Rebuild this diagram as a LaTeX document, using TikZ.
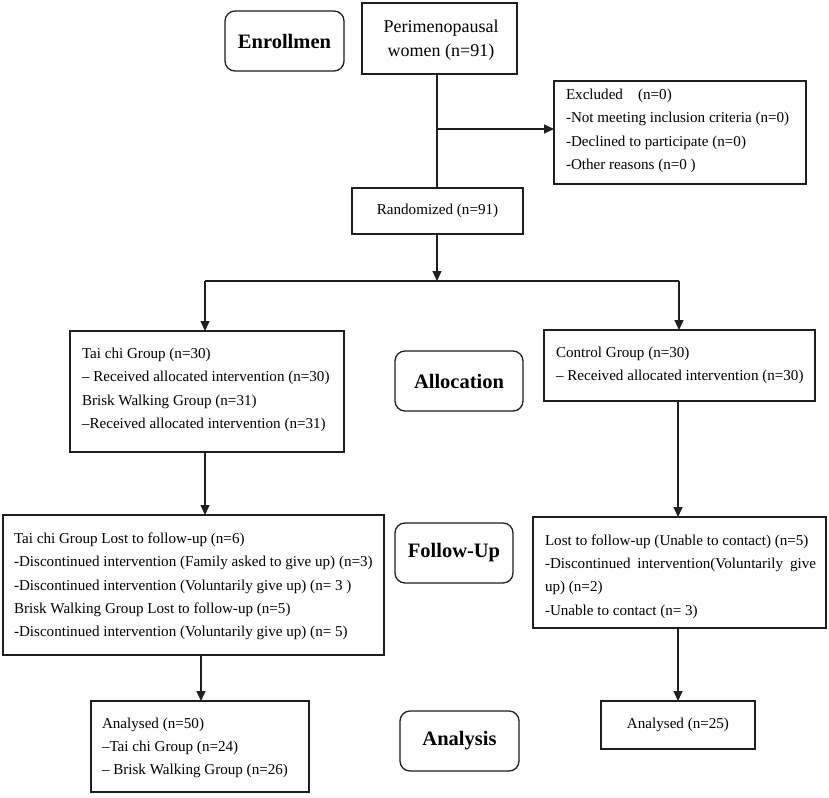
\documentclass[tikz,border=0pt]{standalone}
\usepackage{fontspec}
\setmainfont{Liberation Serif}
\usetikzlibrary{arrows.meta}
\begin{document}
\begin{tikzpicture}[x=1pt,y=-1pt,
  every node/.style={inner sep=0pt, outer sep=0pt},
  txt/.style={font=\fontsize{15.1}{23.3}\selectfont, align=left, anchor=west},
  ctxt/.style={font=\fontsize{15.1}{23.3}\selectfont, align=center},
  box/.style={draw=black!88, line width=1.3pt, rectangle},
  stage/.style={draw=black!88, line width=1.3pt, rectangle, rounded corners=10pt,
                font=\fontsize{20.5}{24}\selectfont\bfseries},
  conn/.style={draw=black!88, line width=1.3pt},
  arr/.style={conn, -{Triangle[length=10pt,width=9pt]}}
]
\useasboundingbox (0,0) rectangle (829,797);
\fill[white] (0,0) rectangle (829,797);

% stage labels
\node[stage, minimum width=119pt, minimum height=60pt] (enr) at (284.5,41) {Enrollmen};
\node[stage, minimum width=128pt, minimum height=60pt] (alloc) at (459,381) {Allocation};
\node[stage, minimum width=118pt, minimum height=60pt] (fu) at (454,553) {Follow-Up};
\node[stage, minimum width=119pt, minimum height=60pt] (an) at (459.5,741) {Analysis};

% boxes
\node[box, minimum width=155pt, minimum height=71pt] (peri) at (439.5,38.5) {};
\node[align=center, font=\fontsize{18}{24}\selectfont] (tperi) at (441,40) {Perimenopausal\\women (n=91)};

\node[box, minimum width=252pt, minimum height=103pt] (excl) at (680,132.5) {};
\node[txt] (texcl) at (566,131) {Excluded\quad (n=0)\\-Not meeting inclusion criteria (n=0)\\-Declined to participate (n=0)\\-Other reasons (n=0 )};

\node[box, minimum width=171pt, minimum height=46pt] (rand) at (437.5,211) {};
\node[ctxt] (trand) at (437.5,211) {Randomized (n=91)};

\node[box, minimum width=274pt, minimum height=121pt] (alL) at (207,391.5) {};
\node[txt] (talL) at (82,390) {Tai chi Group (n=30)\\– Received allocated intervention (n=30)\\Brisk Walking Group (n=31)\\–Received allocated intervention (n=31)};

\node[box, minimum width=271pt, minimum height=71pt] (alR) at (679.5,365.5) {};
\node[txt] (talR) at (556,365.5) {Control Group (n=30)\\– Received allocated intervention (n=30)};

\node[box, minimum width=381pt, minimum height=140pt] (fuL) at (193.5,585) {};
\node[txt] (tfuL) at (14,586.5) {Tai chi Group Lost to follow-up (n=6)\\-Discontinued intervention (Family asked to give up) (n=3)\\-Discontinued intervention (Voluntarily give up) (n= 3 )\\Brisk Walking Group Lost to follow-up (n=5)\\-Discontinued intervention (Voluntarily give up) (n= 5)};

\node[box, minimum width=293pt, minimum height=111pt] (fuR) at (679.5,572.5) {};
\node[txt] (tfuR) at (545,576.5) {Lost to follow-up (Unable to contact) (n=5)\\\makebox[271pt][s]{-Discontinued intervention(Voluntarily give}\\up) (n=2)\\-Unable to contact (n= 3)};

\node[box, minimum width=218pt, minimum height=91pt] (anL) at (200,746.5) {};
\node[txt] (tanL) at (102,748) {Analysed (n=50)\\–Tai chi Group (n=24)\\– Brisk Walking Group (n=26)};

\node[box, minimum width=154pt, minimum height=48pt] (anR) at (678,725) {};
\node[ctxt] (tanR) at (678,725) {Analysed (n=25)};

% helper coordinates
\coordinate (br) at (437,129);
\coordinate (split) at (437,281);
\coordinate (cL) at (205,281);
\coordinate (cR) at (679,281);
\coordinate (cL2) at (201,0);
\coordinate (cR2) at (678,0);

% connectors
\draw[conn] (peri.south -| split) -- (rand.north -| split);
\draw[arr] (br) -- (br -| excl.west);
\draw[arr] (rand.south -| split) -- (split);
\draw[conn] (cL) -- (cR);
\draw[arr] (cL) -- (alL.north -| cL);
\draw[arr] (cR) -- (alR.north -| cR);
\draw[arr] (alL.south -| cL) -- (fuL.north -| cL);
\draw[arr] (alR.south -| cR2) -- (fuR.north -| cR2);
\draw[arr] (fuL.south -| cL2) -- (anL.north -| cL2);
\draw[arr] (fuR.south -| cR2) -- (anR.north -| cR2);
\end{tikzpicture}
\end{document}
